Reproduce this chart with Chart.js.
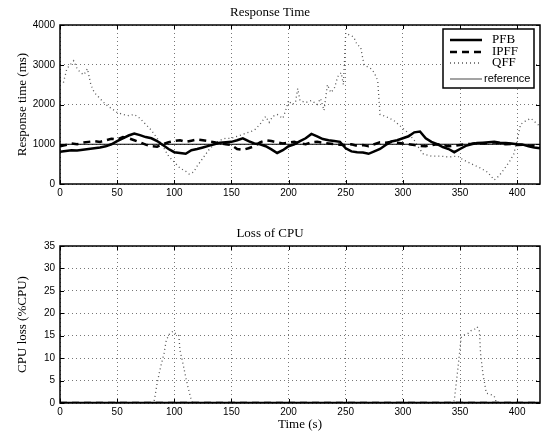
<!DOCTYPE html>
<html>
<head>
<meta charset="utf-8">
<script src="https://cdn.jsdelivr.net/npm/chart.js@4.4.0/dist/chart.umd.min.js"></script>
<style>
    body { margin: 0; background: #fff; }
    #top { position: absolute; left: 0; top: 0; width: 544px; height: 205px; }
    #bottom { position: absolute; left: 0; top: 218px; width: 544px; height: 217px; }
</style>
</head>
<body>
<div id="top"><canvas id="rtChart"></canvas></div>
<div id="bottom"><canvas id="cpuChart"></canvas></div>
<script>
// --- data ---
const sampleTime = [0, 5, 10, 15, 20, 25, 30, 35, 40, 45, 50, 55, 60, 65, 70, 75, 80, 85, 90, 95,
    100, 105, 110, 115, 120, 125, 130, 135, 140, 145, 150, 155, 160, 165, 170, 175, 180, 185, 190, 195,
    200, 205, 210, 215, 220, 225, 230, 235, 240, 245, 250, 255, 260, 265, 270, 275, 280, 285, 290, 295,
    300, 305, 310, 315, 320, 325, 330, 335, 340, 345, 350, 355, 360, 365, 370, 375, 380, 385, 390, 395,
    400, 405, 410, 415, 420];

const pfbValue = [810, 830, 850, 840, 860, 880, 900, 920, 950, 1000,
    1080, 1150, 1220, 1270, 1230, 1180, 1150, 1080, 980, 880,
    800, 780, 760, 850, 880, 920, 960, 1000, 1040, 1050,
    1060, 1100, 1150, 1080, 1020, 1000, 950, 870, 780, 850,
    950, 1000, 1080, 1150, 1260, 1200, 1130, 1100, 1080, 1060,
    900, 820, 800, 790, 760, 820, 880, 980, 1070, 1100,
    1150, 1200, 1300, 1320, 1150, 1060, 1000, 930, 880, 800,
    880, 960, 1000, 1030, 1040, 1050, 1060, 1040, 1030, 1020,
    1000, 990, 950, 920, 900];

const ipffValue = [950, 980, 1020, 1000, 1040, 1060, 1080, 1060, 1100, 1140,
    1120, 1180, 1150, 1100, 1050, 990, 950, 940, 1000, 1050,
    1080, 1100, 1060, 1090, 1120, 1100, 1080, 1050, 1020, 1000,
    980, 880, 860, 900, 950, 1050, 1100, 1080, 1050, 1020,
    1040, 1060, 1020, 1000, 1050, 1060, 1040, 1020, 1000, 990,
    980, 1000, 960, 980, 950, 1000, 1050, 1040, 1060, 1040,
    1020, 1000, 980, 960, 950, 980, 1000, 980, 950, 960,
    980, 1000, 1010, 1030, 1020, 1030, 1050, 1020, 1000, 1010,
    980, 990, 960, 970, 950];

const qffTime = [0, 3, 6, 9, 12, 15, 18, 21, 24, 27, 30, 35, 40, 45, 50, 55, 60, 65, 70, 75,
    80, 85, 90, 95, 100, 105, 110, 113, 117, 120, 125, 130, 135, 140, 145, 150, 155, 160, 165, 170,
    175, 180, 183, 186, 190, 195, 198, 200, 203, 206, 208, 210, 215, 220, 225, 228, 231, 234, 237, 240,
    243, 246, 248, 250, 253, 257, 260, 263, 266, 269, 272, 275, 278, 280, 285, 292, 298, 304, 310, 313,
    318, 325, 333, 340, 348, 352, 357, 362, 368, 374, 380, 384, 388, 393, 397, 400, 403, 408, 412, 416, 420];
const qffValue = [2600, 2550, 2900, 3000, 3100, 2900, 2800, 2750, 2900, 2500, 2300, 2150, 2000, 1900, 1800, 1750, 1720, 1750, 1650, 1500,
    1350, 1150, 950, 700, 550, 400, 320, 250, 300, 450, 650, 850, 1000, 1100, 1150, 1150, 1200, 1250, 1300, 1350,
    1500, 1700, 1550, 1700, 1750, 1650, 1900, 2100, 2000, 2050, 2400, 2100, 2050, 2100, 2000, 2150, 1850, 2500, 2300, 2400,
    2700, 2800, 2500, 3800, 3750, 3700, 3500, 3450, 3000, 2950, 2900, 2800, 2600, 1750, 1700, 1600, 1450, 1300, 1100, 950,
    750, 700, 700, 680, 700, 620, 550, 480, 400, 300, 100, 200, 350, 550, 750, 1100, 1500, 1600, 1650, 1550, 1450];

const refTime = [0, 420];
const refValue = [1000, 1000];

const cpuTime = [0, 82, 83, 85, 88, 91, 93, 96, 99, 101, 104, 105, 107, 110, 112, 115, 116,
    344, 345, 348, 351, 354, 357, 360, 363, 365, 367, 368, 370, 373, 378, 380, 382, 420];
const cpuQffValue = [0, 0, 1.3, 4.4, 8, 11, 14, 15.5, 16, 15.5, 15, 11.7, 9.5, 5.8, 3.5, 0.5, 0,
    0, 0.6, 7.3, 14.6, 15.2, 15.5, 16.2, 16.5, 17, 16, 11, 6.6, 2.2, 1.8, 1.5, 0, 0];
const cpuFlatTime = [0, 420];
const cpuPfbValue = [0, 0];
const cpuIpffValue = [0, 0];

const legendLabels = ["PFB", "IPFF", "QFF", "reference"];
// --------------------------------

const serif = "'Liberation Serif', 'Times New Roman', serif";
const sans = "'Liberation Sans', Arial, sans-serif";

let pts = (xs, ys) => xs.map((x, i) => ({ x: x, y: ys[i] }));

const styles = {
    PFB: { borderColor: '#000', borderWidth: 2.5, borderDash: [] },
    IPFF: { borderColor: '#000', borderWidth: 2.5, borderDash: [7, 5] },
    QFF: { borderColor: '#555', borderWidth: 1.3, borderDash: [1, 3] },
    reference: { borderColor: '#000', borderWidth: 1.2, borderDash: [] }
};

let line = (label, data) => Object.assign({
    label: label,
    data: data,
    pointRadius: 0,
    tension: 0,
    fill: false
}, styles[label]);

let makeScales = (yMax, yStep, yTitle, xTitle, xHeight) => ({
    x: {
        type: 'linear', min: 0, max: 420,
        ticks: { stepSize: 50, includeBounds: false, color: '#000', font: { family: sans, size: 10 }, padding: 3, maxRotation: 0,
            callback: (v) => String(v) },
        grid: { color: '#777', drawTicks: false },
        border: { display: false, dash: [1, 3] },
        title: { display: !!xTitle, text: xTitle || '', color: '#000', font: { family: serif, size: 13 }, padding: { top: 0, bottom: 3 } },
        afterFit: (s) => { s.height = xHeight; }
    },
    y: {
        min: 0, max: yMax,
        ticks: { stepSize: yStep, color: '#000', font: { family: sans, size: 10 }, padding: 5,
            callback: (v) => String(v) },
        grid: { color: '#777', drawTicks: false },
        border: { display: false, dash: [1, 3] },
        title: { display: true, text: yTitle, color: '#000', font: { family: serif, size: 13 }, padding: { top: 15, bottom: 0 } },
        afterFit: (s) => { s.width = 60; }
    }
});

// axes box with inward tick marks, matlab style
const boxPlugin = {
    id: 'box',
    afterDatasetsDraw(chart) {
        const { ctx, chartArea: a, scales } = chart;
        ctx.save();
        ctx.setLineDash([]);
        ctx.strokeStyle = '#000';
        ctx.lineWidth = 1;
        ctx.beginPath();
        scales.x.ticks.forEach(t => {
            const px = Math.round(scales.x.getPixelForValue(t.value)) + 0.5;
            ctx.moveTo(px, a.bottom); ctx.lineTo(px, a.bottom - 4);
            ctx.moveTo(px, a.top); ctx.lineTo(px, a.top + 4);
        });
        scales.y.ticks.forEach(t => {
            const py = Math.round(scales.y.getPixelForValue(t.value)) + 0.5;
            ctx.moveTo(a.left, py); ctx.lineTo(a.left + 4, py);
            ctx.moveTo(a.right, py); ctx.lineTo(a.right - 4, py);
        });
        ctx.stroke();
        ctx.lineWidth = 1.5;
        ctx.strokeRect(a.left, a.top, a.width, a.height);
        ctx.restore();
    }
};

const legendPlugin = {
    id: 'boxLegend',
    afterDraw(chart) {
        const { ctx, chartArea: a } = chart;
        const w = 91, h = 59;
        const x0 = a.right - 6 - w, y0 = a.top + 4;
        ctx.save();
        ctx.fillStyle = '#fff';
        ctx.fillRect(x0, y0, w, h);
        ctx.strokeStyle = '#000';
        ctx.lineWidth = 1.5;
        ctx.strokeRect(x0, y0, w, h);
        const rows = [11, 23, 34, 50];
        legendLabels.forEach((lab, i) => {
            const st = styles[lab];
            const y = y0 + rows[i];
            ctx.beginPath();
            ctx.setLineDash(st.borderDash);
            ctx.lineWidth = st.borderWidth;
            ctx.strokeStyle = lab === 'reference' ? '#666' : st.borderColor;
            ctx.moveTo(x0 + 7, y);
            ctx.lineTo(x0 + 39, y);
            ctx.stroke();
            ctx.setLineDash([]);
            ctx.fillStyle = '#000';
            ctx.textBaseline = 'middle';
            ctx.textAlign = 'left';
            if (lab === 'reference') {
                ctx.font = '11px ' + sans;
                ctx.fillText(lab, x0 + 41, y);
            } else {
                ctx.font = '13px ' + serif;
                ctx.fillText(lab, x0 + 49, y);
            }
        });
        ctx.restore();
    }
};

new Chart(document.getElementById('rtChart'), {
    type: 'line',
    data: {
        datasets: [
            line('PFB', pts(sampleTime, pfbValue)),
            line('IPFF', pts(sampleTime, ipffValue)),
            line('reference', pts(refTime, refValue)),
            line('QFF', pts(qffTime, qffValue))
        ]
    },
    options: {
        responsive: true,
        maintainAspectRatio: false,
        animation: false,
        layout: { padding: { left: 0, right: 4, top: 0, bottom: 0 } },
        plugins: {
            legend: { display: false },
            tooltip: { enabled: false },
            title: { display: true, text: 'Response Time', color: '#000', font: { family: serif, size: 13, weight: 'normal' }, padding: { top: 5, bottom: 4.4 } }
        },
        scales: makeScales(4000, 1000, 'Response time (ms)', null, 21)
    },
    plugins: [boxPlugin, legendPlugin]
});

new Chart(document.getElementById('cpuChart'), {
    type: 'line',
    data: {
        datasets: [
            line('PFB', pts(cpuFlatTime, cpuPfbValue)),
            line('IPFF', pts(cpuFlatTime, cpuIpffValue)),
            line('QFF', pts(cpuTime, cpuQffValue))
        ]
    },
    options: {
        responsive: true,
        maintainAspectRatio: false,
        animation: false,
        layout: { padding: { left: 0, right: 4, top: 0, bottom: 0 } },
        plugins: {
            legend: { display: false },
            tooltip: { enabled: false },
            title: { display: true, text: 'Loss of CPU', color: '#000', font: { family: serif, size: 13, weight: 'normal' }, padding: { top: 8, bottom: 4.4 } }
        },
        scales: makeScales(35, 5, 'CPU loss (%CPU)', 'Time (s)', 32)
    },
    plugins: [boxPlugin]
});
</script>
</body>
</html>
